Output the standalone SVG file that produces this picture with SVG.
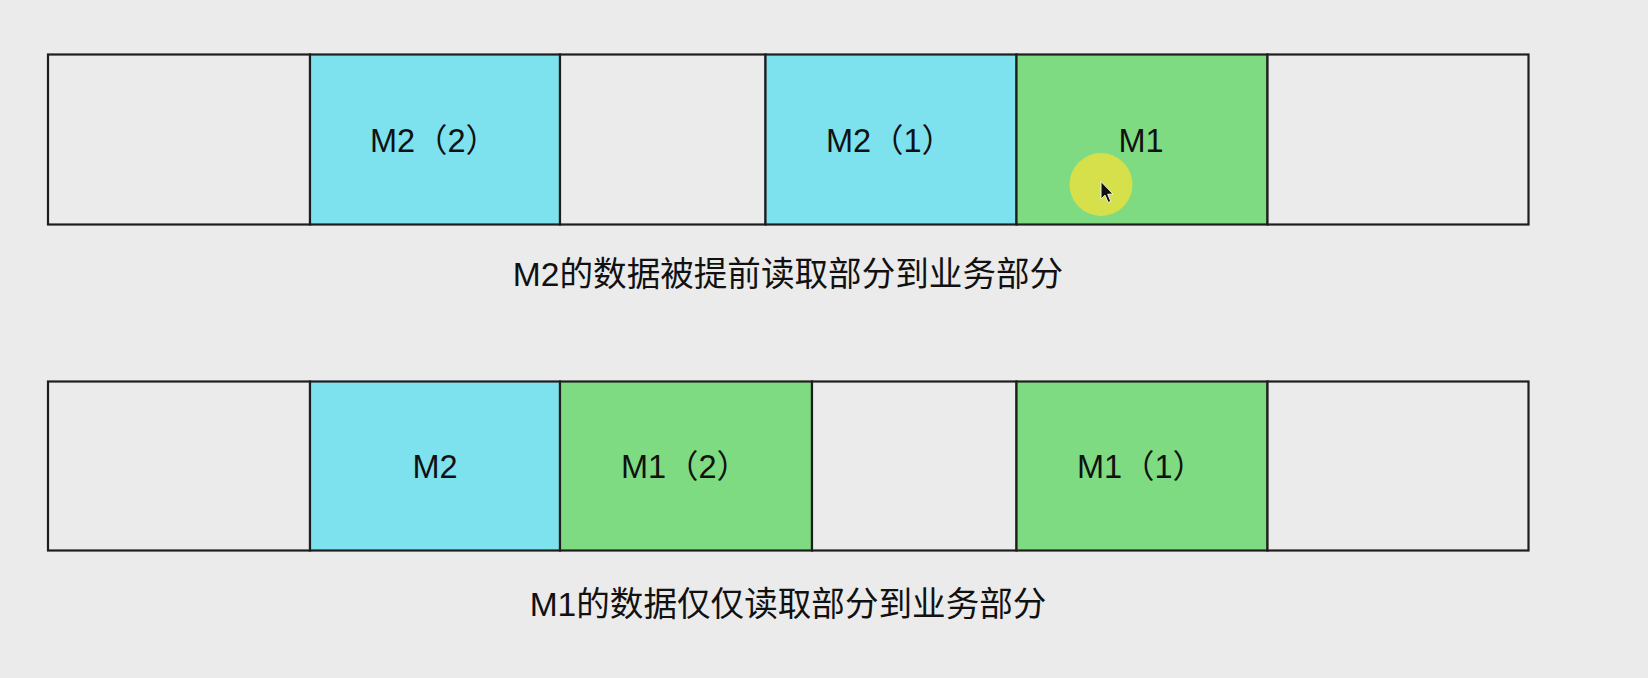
<svg xmlns="http://www.w3.org/2000/svg" width="1648" height="678" viewBox="0 0 1648 678">
<style>
.cell{stroke:#1e1e1e;stroke-width:2.2}
.empty{fill:#ebebeb}
.cyan{fill:#7de2ee}
.green{fill:#7edb82}
.lbl{font-family:"Liberation Sans","Noto Sans CJK SC",sans-serif;font-size:32.5px;fill:#111;text-anchor:middle}
.cap{font-family:"Liberation Sans","Noto Sans CJK SC",sans-serif;font-size:33.6px;fill:#111;text-anchor:middle}
</style>
<rect width="1648" height="678" fill="#ebebeb"/>
<g id="row1">
<g id="r1c1"><rect class="cell empty" x="48" y="54.5" width="262" height="170"/></g>
<g id="r1c2"><rect class="cell cyan" x="310" y="54.5" width="250" height="170"/><text class="lbl" x="434" y="152">M2（2）</text></g>
<g id="r1c3"><rect class="cell empty" x="560" y="54.5" width="205.5" height="170"/></g>
<g id="r1c4"><rect class="cell cyan" x="765.5" y="54.5" width="251" height="170"/><text class="lbl" x="890" y="152">M2（1）</text></g>
<g id="r1c5"><rect class="cell green" x="1016.5" y="54.5" width="251" height="170"/><text class="lbl" x="1141" y="152">M1</text></g>
<g id="r1c6"><rect class="cell empty" x="1267.5" y="54.5" width="261" height="170"/></g>
</g>
<g id="cursor">
<circle cx="1101" cy="184.5" r="31.5" fill="#d6e04a"/>
<path d="M1101,181.5 L1101,199 L1105,195.2 L1108.2,202.5 L1110.8,201.3 L1107.7,194.3 L1113,194 Z" fill="#111" stroke="#f4f4f4" stroke-width="1"/>
</g>
<text id="caption1" class="cap" x="788" y="286">M2的数据被提前读取部分到业务部分</text>
<g id="row2">
<g id="r2c1"><rect class="cell empty" x="48" y="381.5" width="262" height="169"/></g>
<g id="r2c2"><rect class="cell cyan" x="310" y="381.5" width="250" height="169"/><text class="lbl" x="435" y="478">M2</text></g>
<g id="r2c3"><rect class="cell green" x="560" y="381.5" width="252" height="169"/><text class="lbl" x="685" y="478">M1（2）</text></g>
<g id="r2c4"><rect class="cell empty" x="812" y="381.5" width="204.5" height="169"/></g>
<g id="r2c5"><rect class="cell green" x="1016.5" y="381.5" width="251" height="169"/><text class="lbl" x="1141" y="478">M1（1）</text></g>
<g id="r2c6"><rect class="cell empty" x="1267.5" y="381.5" width="261" height="169"/></g>
</g>
<text id="caption2" class="cap" x="788" y="616">M1的数据仅仅读取部分到业务部分</text>
<g id="connectors"/>
</svg>
